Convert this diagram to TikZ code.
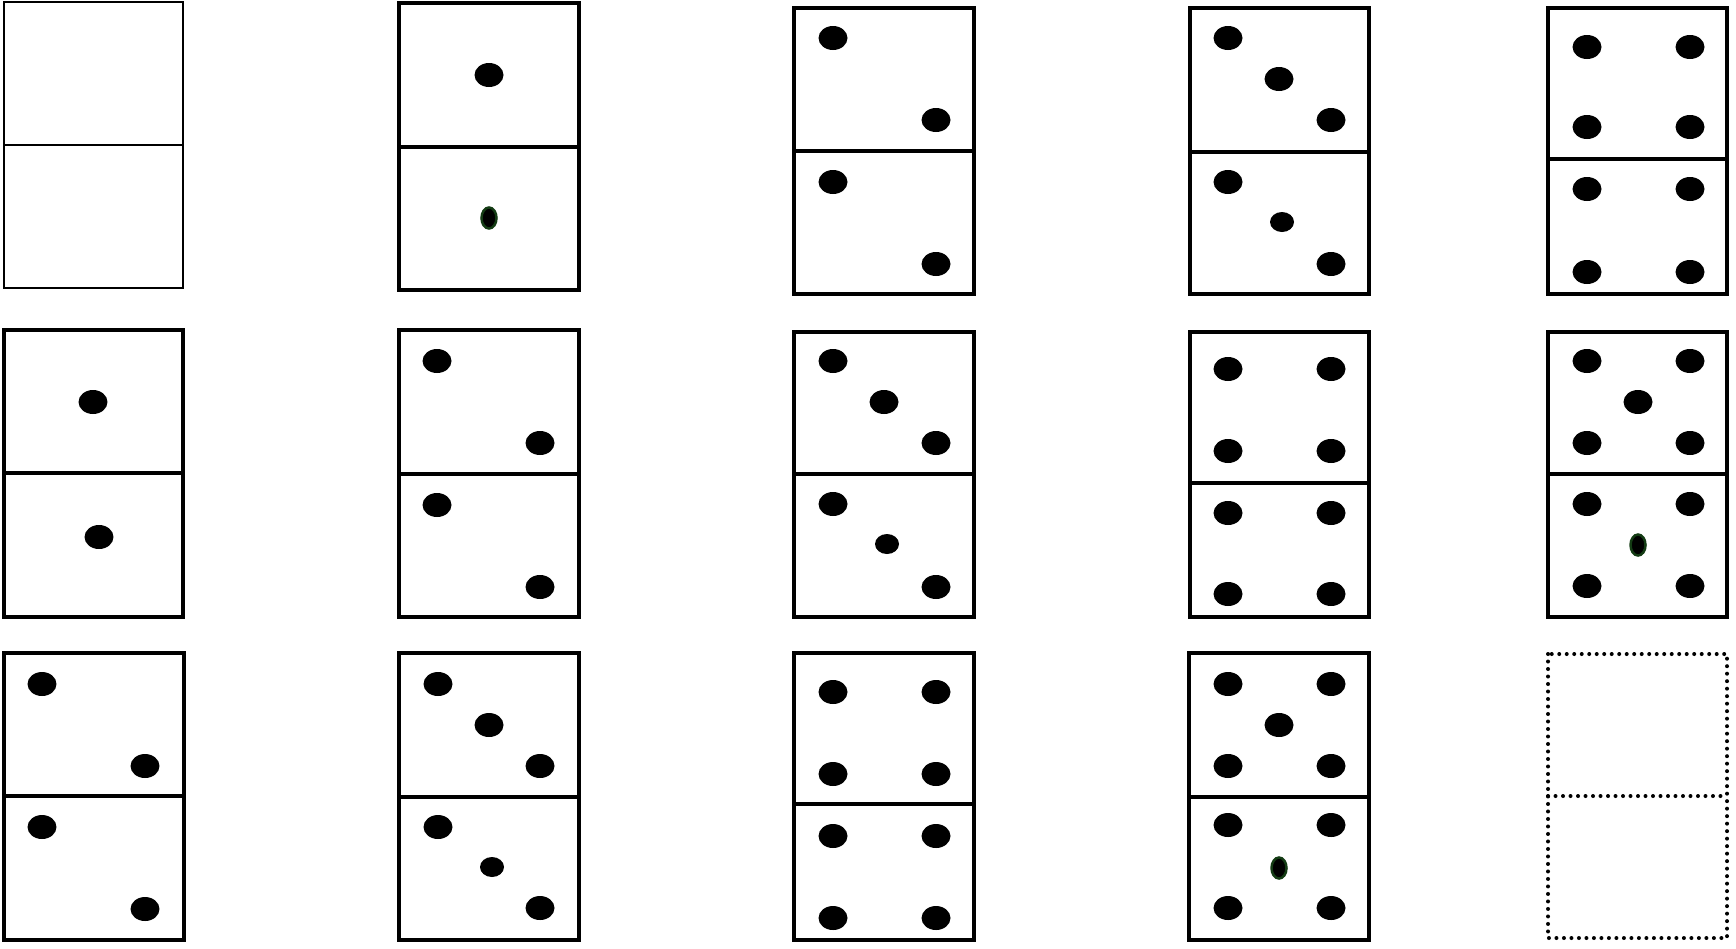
\documentclass[tikz,border=0pt]{standalone}
\usepackage{tikz}
\usetikzlibrary{positioning}
\definecolor{pipgreen}{RGB}{20,60,20}
\newcommand*{\dominobox}[6][tile]{% style,left,top,right,bottom,divider
		\draw [#1] (#2,#3) rectangle (#4,#5);
		\draw [#1] (#2,#6) -- (#4,#6);
}
\newcommand*{\pip}[2]{\fill (#1,#2) ellipse [x radius=0.29cm, y radius=0.24cm];}
\newcommand*{\smallpip}[2]{\fill (#1,#2) ellipse [x radius=0.24cm, y radius=0.2cm];}
\newcommand*{\greenpip}[2]{\filldraw [fill=black, draw=pipgreen, line width=0.05cm] (#1,#2) ellipse [x radius=0.15cm, y radius=0.21cm];}
\tikzset{tile/.style={draw=black, line width=0.068cm},
thintile/.style={draw=black, line width=0.045cm},
emptytile/.style={draw=black, line width=0.08cm, line cap=round, dash pattern=on 0pt off 0.15cm}}

\begin{document}
\begin{tikzpicture}[x=0.02cm, y=-0.02cm]
			\useasboundingbox (0,0) rectangle (1736,948);
			% first row
			\dominobox[thintile]{4}{2}{183}{288}{145}
			\dominobox{399}{3}{579}{290}{147}
			\pip{489}{75}
			\greenpip{489}{218}
			\dominobox{794}{8}{974}{294}{151}
			\foreach \y in {38,182}
				{\pip{833}{\y} \pip{936}{\y+82}}
			\dominobox{1190}{8}{1369}{294}{152}
			\pip{1228}{38} \pip{1279}{79} \pip{1331}{120}
			\pip{1228}{182} \smallpip{1282}{222} \pip{1331}{264}
			\dominobox{1548}{8}{1727}{294}{159}
			\foreach \y in {47,127,189,272}
				{\pip{1587}{\y} \pip{1690}{\y}}
			% second row
			\dominobox{4}{330}{183}{617}{473}
			\pip{93}{402}
			\pip{99}{537}
			\dominobox{399}{330}{579}{617}{474}
			\foreach \y in {361,505}
				{\pip{437}{\y} \pip{540}{\y+82}}
			\dominobox{794}{332}{974}{617}{474}
			\pip{833}{361} \pip{884}{402} \pip{936}{443}
			\pip{833}{504} \smallpip{887}{544} \pip{936}{587}
			\dominobox{1190}{332}{1369}{617}{483}
			\foreach \y in {369,451,513,594}
				{\pip{1228}{\y} \pip{1331}{\y}}
			\dominobox{1548}{332}{1727}{617}{474}
			\foreach \y in {361,443,504,586}
				{\pip{1587}{\y} \pip{1690}{\y}}
			\pip{1638}{402}
			\greenpip{1638}{545}
			% third row
			\dominobox{4}{653}{184}{940}{796}
			\foreach \y in {684,827}
				{\pip{42}{\y} \pip{145}{\y+82}}
			\dominobox{399}{653}{579}{940}{797}
			\pip{438}{684} \pip{489}{725} \pip{540}{766}
			\pip{438}{827} \smallpip{492}{867} \pip{540}{908}
			\dominobox{794}{653}{974}{940}{804}
			\foreach \y in {692,774,836,918}
				{\pip{833}{\y} \pip{936}{\y}}
			\dominobox{1189}{653}{1369}{940}{797}
			\foreach \y in {684,766,825,908}
				{\pip{1228}{\y} \pip{1331}{\y}}
			\pip{1279}{725}
			\greenpip{1279}{868}
			\dominobox[emptytile]{1548}{654}{1727}{938}{796}
		\end{tikzpicture}
\end{document}
